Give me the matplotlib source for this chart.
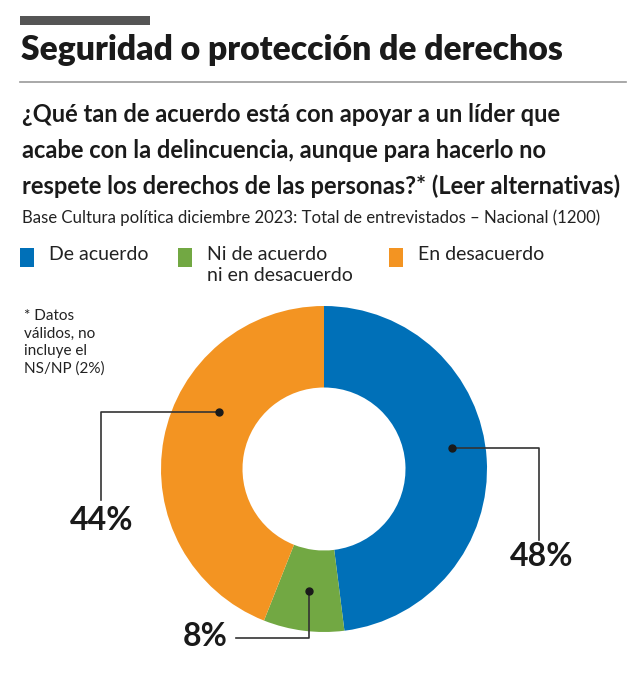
import numpy as np
import matplotlib.pyplot as plt
from matplotlib.patches import Rectangle

categorias = ["De acuerdo", "Ni de acuerdo\nni en desacuerdo", "En desacuerdo"]
valores = [48, 8, 44]
etiquetas = ["48%", "8%", "44%"]
colores = ["#0070b8", "#72a843", "#f39422"]

W, H = 640, 679
fig = plt.figure(figsize=(6.4, 6.79), dpi=100)
ax = fig.add_axes([0, 0, 1, 1])
ax.set_xlim(0, W)
ax.set_ylim(0, H)
ax.axis("off")

def Y(y):
    return H - y

fuente = "Lato"
# barra gris y titulo
ax.add_patch(Rectangle((20, Y(25)), 130, 9, color="#555555", lw=0))
ax.text(21, Y(50), "Seguridad o protección de derechos", fontsize=24.2, fontweight="heavy",
        family=fuente, color="#1a1a1a", va="center", ha="left")
ax.plot([20, 626], [Y(82), Y(82)], color="#999999", lw=1.2)

pregunta = ["¿Qué tan de acuerdo está con apoyar a un líder que",
            "acabe con la delincuencia, aunque para hacerlo no",
            "respete los derechos de las personas?* (Leer alternativas)"]
for i, linea in enumerate(pregunta):
    ax.text(22, Y(114 + i * 36), linea, fontsize=17, fontweight="bold", family=fuente,
            color="#1a1a1a", va="center", ha="left")
ax.text(22, Y(218), "Base Cultura política diciembre 2023: Total de entrevistados – Nacional (1200)",
        fontsize=12.1, family=fuente, color="#222222", va="center", ha="left")

# leyenda
leg_x = [20, 178, 389]
for x, c, t in zip(leg_x, colores, categorias):
    ax.add_patch(Rectangle((x, Y(267)), 14, 19, color=c, lw=0))
    ax.text(x + 29, Y(246), t, fontsize=14, family=fuente, color="#222222",
            va="top", ha="left", linespacing=1.3)

ax.text(24, Y(309), "* Datos\nválidos, no\nincluye el\nNS/NP (2%)", fontsize=11,
        family=fuente, color="#222222", va="top", ha="left", linespacing=1.32)

# dona
cx, cy, R = 324, Y(469), 163
wedges, _ = ax.pie(valores, colors=colores, startangle=90, counterclock=False,
                   center=(cx, cy), radius=R, wedgeprops=dict(width=R * 0.5, lw=0),
                   frame=True)
ax.set_xlim(0, W)
ax.set_ylim(0, H)
ax.set_aspect("equal")
ax.axis("off")

# puntos y lineas guia
desfase = [5.7, 0, -17.7]
radio_p = [130, 123, 119]
codos = [
    lambda px, py: ([px, 539, 539], [py, py, Y(540)], (542, Y(557)), "center"),
    lambda px, py: ([px, px, 236], [py, Y(638), Y(638)], (205, Y(637)), "center"),
    lambda px, py: ([px, 101, 101], [py, py, Y(500)], (102, Y(520)), "center"),
]
for w, d, r, f, lab in zip(wedges, desfase, radio_p, codos, etiquetas):
    ang = np.deg2rad((w.theta1 + w.theta2) / 2 + d)
    px, py = cx + r * np.cos(ang), cy + r * np.sin(ang)
    xs, ys, pos, ha = f(px, py)
    ax.plot(xs, ys, color="#333333", lw=1.2)
    ax.plot(px, py, "o", color="#1a1a1a", ms=5)
    ax.text(pos[0], pos[1], lab, fontsize=23, fontweight="bold", family=fuente,
            color="#1a1a1a", ha=ha, va="center")

fig.savefig("out.png", dpi=100)
